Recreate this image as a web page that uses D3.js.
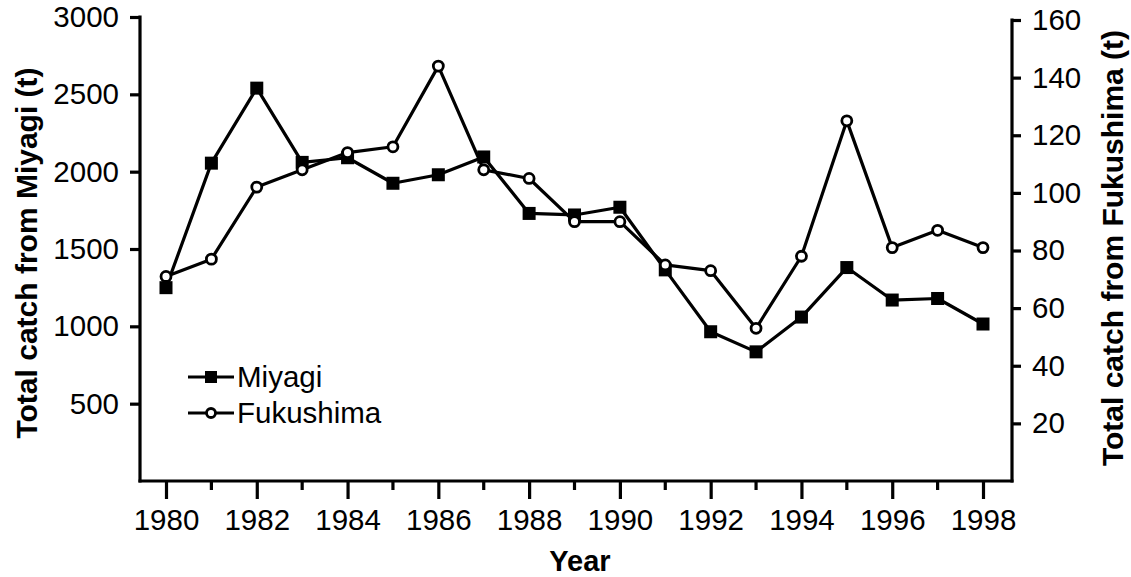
<!DOCTYPE html>
<html>
<head>
<meta charset="utf-8">
<script src="https://cdn.jsdelivr.net/npm/d3@7"></script>
<style>
  html, body { margin: 0; padding: 0; background: #fff; }
  svg { display: block; }
  text { font-family: "Liberation Sans", Arial, Helvetica, sans-serif; fill: #000; }
</style>
</head>
<body>
<svg id="chart" width="1131" height="577"></svg>
<script>
const years = [1980,1981,1982,1983,1984,1985,1986,1987,1988,1989,1990,1991,1992,1993,1994,1995,1996,1997,1998];
const miyagi = [1250,2055,2540,2060,2090,1925,1980,2095,1730,1720,1770,1365,965,835,1060,1380,1170,1180,1015];
const fukushima = [71,77,102,108,114,116,144,108,105,90,90,75,73,53,78,125,81,87,81];
const xTickYears = [1980,1982,1984,1986,1988,1990,1992,1994,1996,1998];
const xMinorYears = [1981,1983,1985,1987,1989,1991,1993,1995,1997];
const leftTicks = [500,1000,1500,2000,2500,3000];
const rightTicks = [20,40,60,80,100,120,140,160];
const seriesNames = ["Miyagi","Fukushima"];
const titles = { left: "Total catch from Miyagi (t)", right: "Total catch from Fukushima (t)", x: "Year" };

const svg = d3.select("#chart");
const L = 140, R = 1012, B = 481, TL = 17, TR = 20;

const x = d3.scaleLinear().domain([1980, 1998]).range([166, 983]);
const yL = d3.scaleLinear().domain([0, 3000]).range([B, TL]);
const yR = d3.scaleLinear().domain([0, 160]).range([B, TR]);

const SW = 3.2;
const fontSize = 29.5;
const fmt = d3.format("d");

// Left axis
const gL = svg.append("g").attr("transform", `translate(${L},0)`)
  .call(d3.axisLeft(yL).tickValues(leftTicks).tickFormat(fmt).tickSize(10).tickPadding(11).tickSizeOuter(0));
gL.select(".domain").remove();
gL.selectAll(".tick line").attr("stroke", "#000").attr("stroke-width", SW);
gL.selectAll(".tick text").style("font-size", fontSize + "px").attr("fill", "#000");
svg.append("line").attr("x1", L).attr("x2", L).attr("y1", TL - 1.5).attr("y2", B + 1.5)
  .attr("stroke", "#000").attr("stroke-width", SW);

// Right axis
const gR = svg.append("g").attr("transform", `translate(${R},0)`)
  .call(d3.axisRight(yR).tickValues(rightTicks).tickFormat(fmt).tickSize(9).tickPadding(11).tickSizeOuter(0));
gR.select(".domain").remove();
gR.selectAll(".tick line").attr("stroke", "#000").attr("stroke-width", SW);
gR.selectAll(".tick text").style("font-size", fontSize + "px").attr("fill", "#000");
svg.append("line").attr("x1", R).attr("x2", R).attr("y1", TR - 1.5).attr("y2", B + 1.5)
  .attr("stroke", "#000").attr("stroke-width", SW);

// Bottom axis
const gB = svg.append("g").attr("transform", `translate(0,${B})`)
  .call(d3.axisBottom(x).tickValues(xTickYears).tickFormat(fmt).tickSize(18).tickPadding(10).tickSizeOuter(0));
gB.select(".domain").remove();
gB.selectAll(".tick line").attr("stroke", "#000").attr("stroke-width", SW);
gB.selectAll(".tick text").style("font-size", fontSize + "px").attr("fill", "#000");
svg.append("g").selectAll("line").data(xMinorYears).join("line")
  .attr("x1", d => x(d)).attr("x2", d => x(d)).attr("y1", B).attr("y2", B + 9)
  .attr("stroke", "#000").attr("stroke-width", SW);
svg.append("line").attr("x1", L - 1.5).attr("x2", R + 1.5).attr("y1", B).attr("y2", B)
  .attr("stroke", "#000").attr("stroke-width", SW);

// Titles
svg.append("text").attr("transform", `translate(37,253) rotate(-90)`)
  .attr("text-anchor", "middle").style("font-size", "30px").style("font-weight", "bold")
  .text(titles.left);
svg.append("text").attr("transform", `translate(1123,248) rotate(-90)`)
  .attr("text-anchor", "middle").style("font-size", "30px").style("font-weight", "bold")
  .text(titles.right);
svg.append("text").attr("x", 580).attr("y", 571)
  .attr("text-anchor", "middle").style("font-size", "29px").style("font-weight", "bold")
  .text(titles.x);

// Lines
const lineM = d3.line().x((d, i) => x(years[i])).y(d => yL(d));
const lineF = d3.line().x((d, i) => x(years[i])).y(d => yR(d));

svg.append("path").datum(fukushima).attr("d", lineF)
  .attr("fill", "none").attr("stroke", "#000").attr("stroke-width", SW).attr("stroke-linejoin", "round");
svg.append("path").datum(miyagi).attr("d", lineM)
  .attr("fill", "none").attr("stroke", "#000").attr("stroke-width", SW).attr("stroke-linejoin", "round");

// Markers
const sq = 13;
svg.append("g").selectAll("rect").data(miyagi).join("rect")
  .attr("x", (d, i) => x(years[i]) - sq / 2).attr("y", d => yL(d) - sq / 2)
  .attr("width", sq).attr("height", sq).attr("fill", "#000");
svg.append("g").selectAll("circle").data(fukushima).join("circle")
  .attr("cx", (d, i) => x(years[i])).attr("cy", d => yR(d)).attr("r", 5)
  .attr("fill", "#fff").attr("stroke", "#000").attr("stroke-width", 2.8);

// Legend
const legY = [377, 413];
const lg = svg.append("g");
lg.selectAll("line").data(seriesNames).join("line")
  .attr("x1", 188).attr("x2", 234).attr("y1", (d, i) => legY[i]).attr("y2", (d, i) => legY[i])
  .attr("stroke", "#000").attr("stroke-width", SW);
lg.append("rect").attr("x", 211 - 6).attr("y", legY[0] - 6).attr("width", 12).attr("height", 12).attr("fill", "#000");
lg.append("circle").attr("cx", 211).attr("cy", legY[1]).attr("r", 4.5)
  .attr("fill", "#fff").attr("stroke", "#000").attr("stroke-width", 2.8);
lg.selectAll("text").data(seriesNames).join("text")
  .attr("x", 237).attr("y", (d, i) => legY[i]).attr("dy", "0.35em")
  .style("font-size", "29.5px").text(d => d);
</script>
</body>
</html>
